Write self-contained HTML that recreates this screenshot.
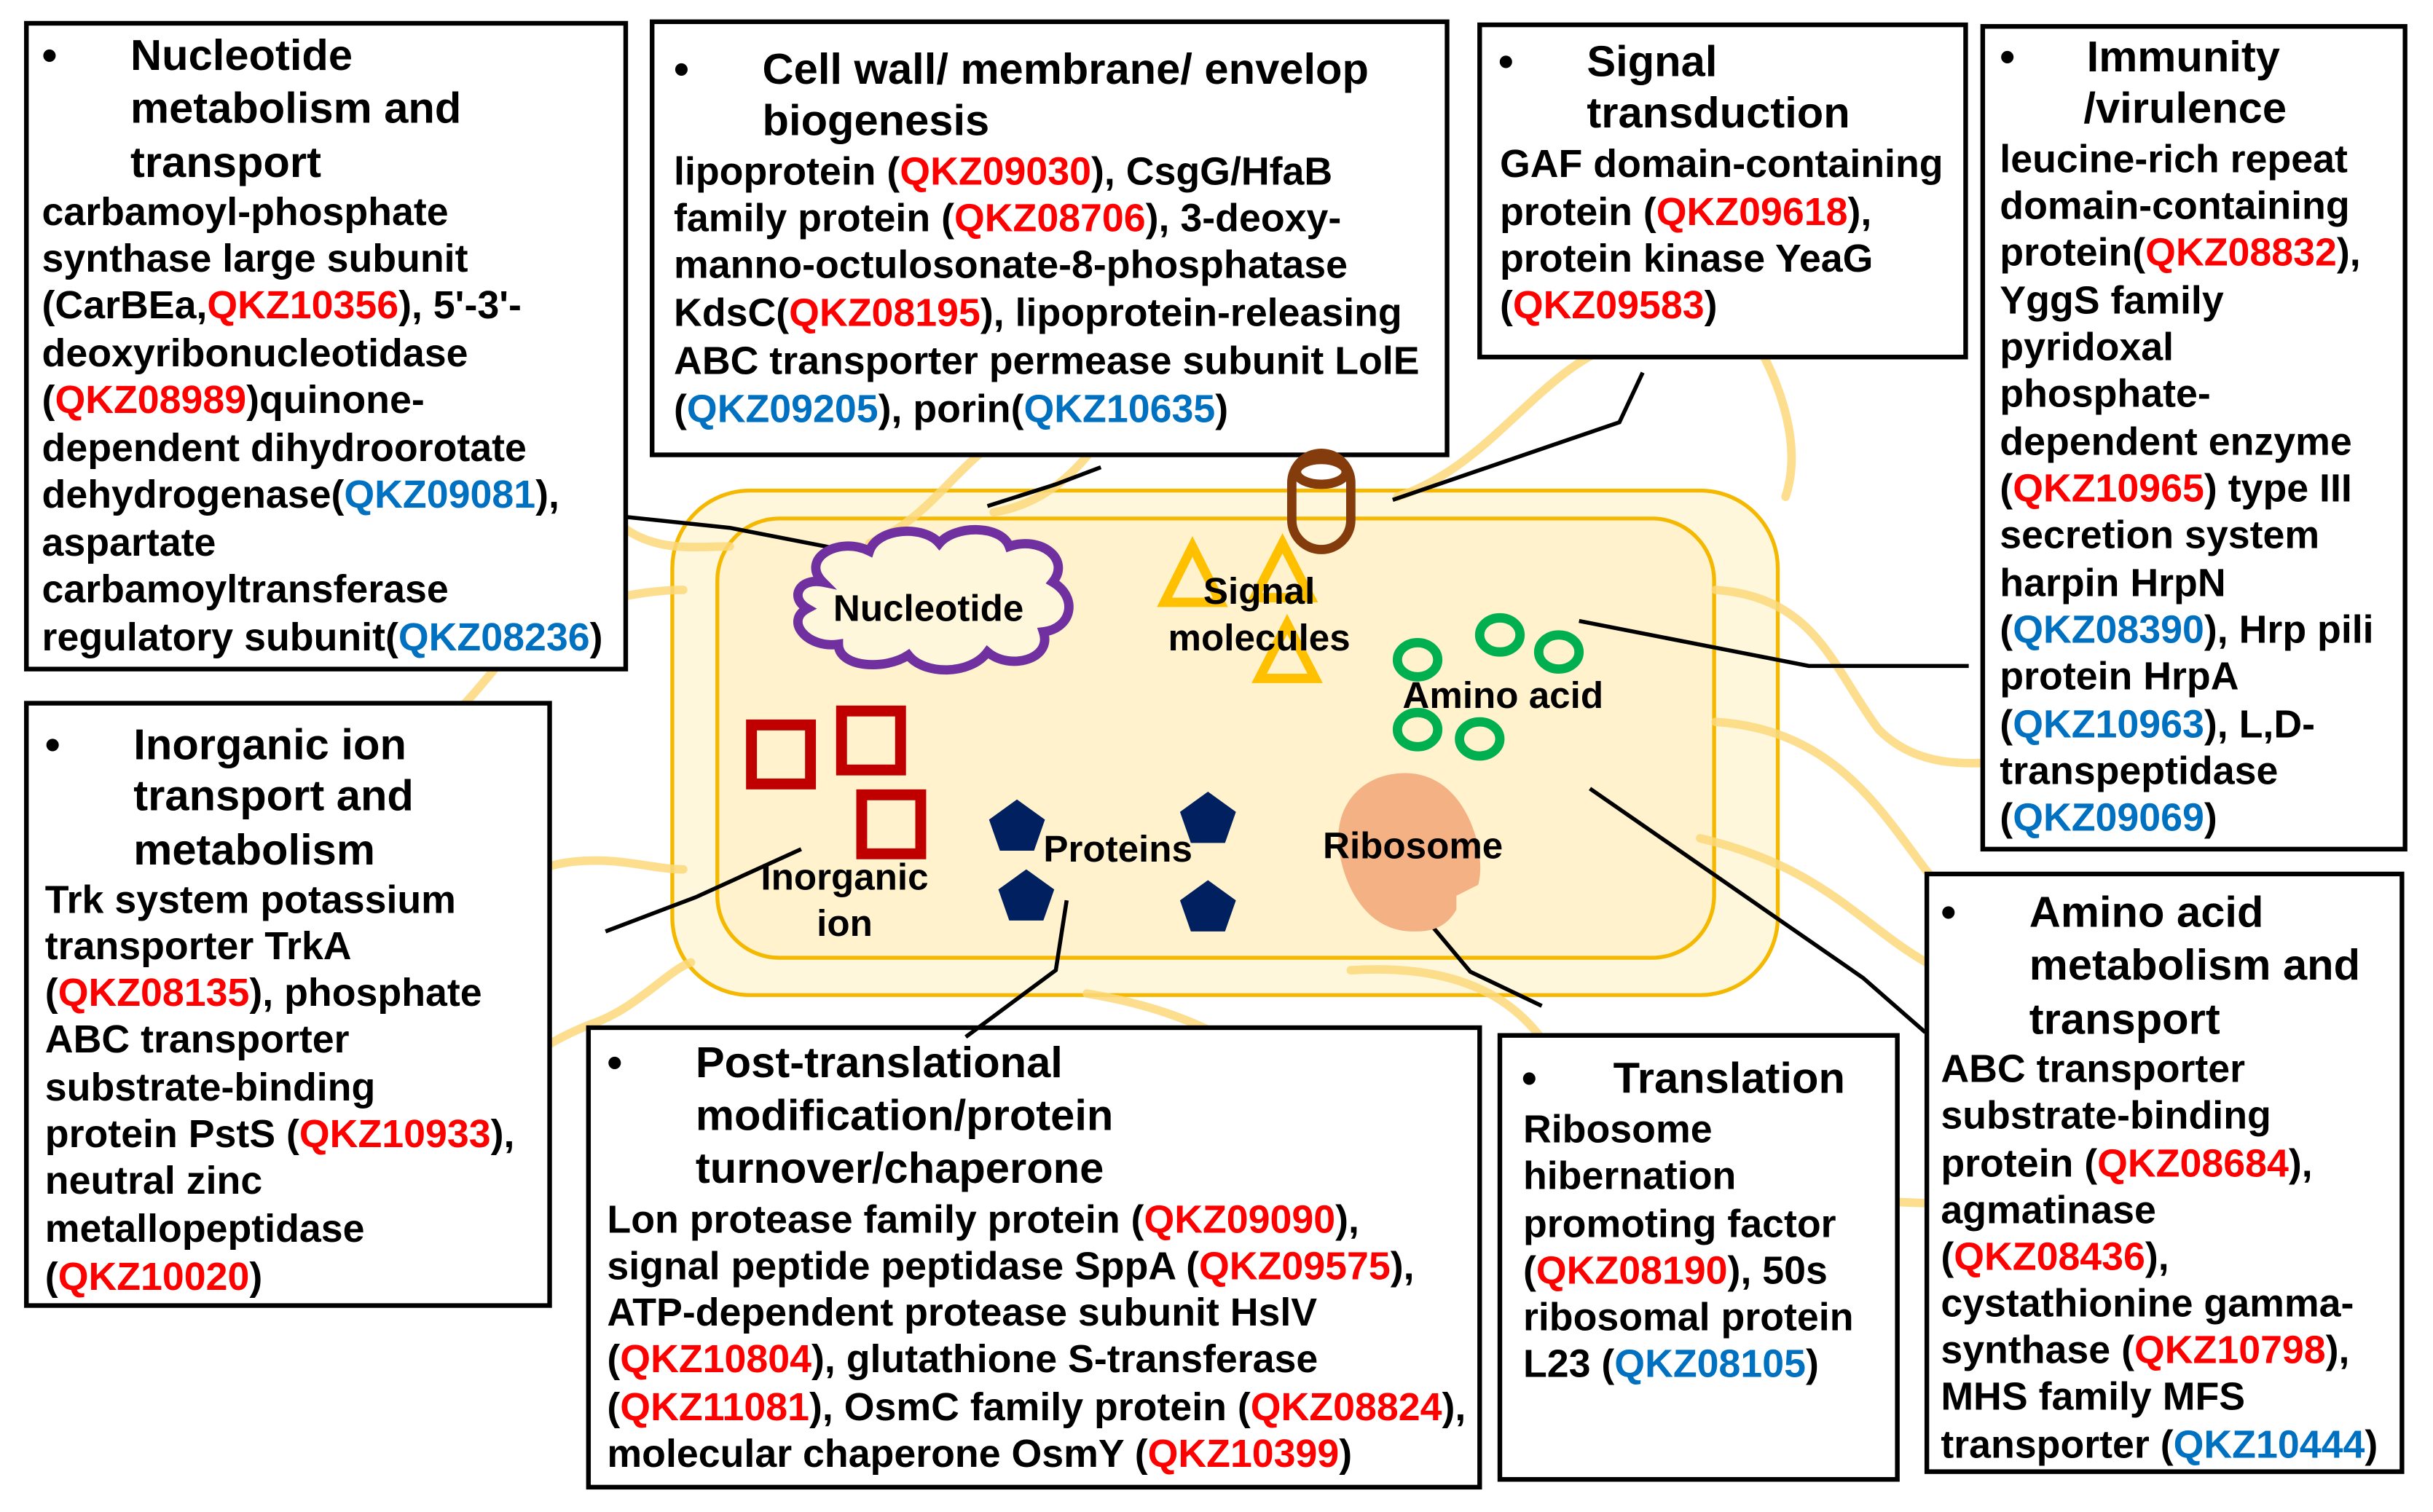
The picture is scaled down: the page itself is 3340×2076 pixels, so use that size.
<!DOCTYPE html>
<html><head><meta charset="utf-8"><style>
html,body{margin:0;padding:0;background:#fff;width:3340px;height:2076px;overflow:hidden}
svg{display:block}
text{font-family:"Liberation Sans",Arial,sans-serif;font-weight:bold;fill:#000}
.b{font-size:25.2px}
.t{font-size:28px}
.c{font-size:24px}
.r{fill:#ff0000}
.u{fill:#0070c0}
.fl{fill:none;stroke:#fbd87a;stroke-width:5.5;stroke-opacity:.85;stroke-linecap:round}
.ln{fill:none;stroke:#000;stroke-width:2.6}
.bx{fill:#fff;stroke:#000;stroke-width:3}
</style></head><body>
<svg width="3340" height="2076" viewBox="0 0 1567 974" preserveAspectRatio="none" xmlns="http://www.w3.org/2000/svg">
<rect x="433" y="316" width="712" height="325" rx="50" fill="#fff7dc" stroke="#f5b800" stroke-width="2.5"/>
<rect x="462" y="334" width="642" height="283" rx="40" fill="#fff2cc" stroke="#f5b800" stroke-width="2.5"/>

<path class="fl" d="M300,232 C380,250 360,320 410,345 C430,355 450,352 470,352"/>
<path class="fl" d="M238,490 C300,480 320,410 360,395 C390,385 420,380 440,380"/>
<path class="fl" d="M235,610 C290,600 320,560 370,555 C400,552 420,560 440,560"/>
<path class="fl" d="M310,765 C300,710 330,680 380,660 C410,650 430,625 445,620"/>
<path class="fl" d="M560,350 C610,330 620,280 690,260 C720,250 745,240 760,230"/>
<path class="fl" d="M640,330 C700,320 720,260 740,230 C760,205 790,200 810,205"/>
<path class="fl" d="M900,320 C960,300 990,240 1040,222 C1080,210 1110,212 1125,210"/>
<path class="fl" d="M1105,380 C1170,385 1180,430 1210,470 C1240,500 1280,490 1310,490"/>
<path class="fl" d="M1105,465 C1180,470 1210,520 1240,560 C1260,585 1290,590 1310,590"/>
<path class="fl" d="M1095,540 C1180,560 1200,600 1250,625"/>
<path class="fl" d="M870,625 C950,620 990,650 1010,700 C1030,760 1100,770 1240,775"/>
<path class="fl" d="M700,640 C760,650 800,670 830,700"/>
<path class="fl" d="M1125,210 C1150,250 1160,290 1150,320"/>

<rect class="bx" x="17" y="15" width="386" height="416"/>
<rect class="bx" x="420" y="14" width="512" height="279"/>
<rect class="bx" x="953" y="16" width="313" height="214"/>
<rect class="bx" x="1277" y="17" width="272" height="530"/>
<rect class="bx" x="17" y="453" width="337" height="388"/>
<rect class="bx" x="379" y="662" width="574" height="296"/>
<rect class="bx" x="966" y="667" width="256" height="286"/>
<rect class="bx" x="1241" y="563" width="306" height="385"/>

<polyline class="ln" points="403,333 470,340 537,353"/>
<polyline class="ln" points="636,326 680,312 709,301"/>
<polyline class="ln" points="897,322 1043,272 1058,240"/>
<polyline class="ln" points="1017,400 1165,429 1268,429"/>
<polyline class="ln" points="1024,508 1200,630 1240,665"/>
<polyline class="ln" points="921,595 947,626 993,648"/>
<polyline class="ln" points="687,580 680,625 622,668"/>
<polyline class="ln" points="390,600 448,578 516,547"/>

<rect x="832" y="292" width="38" height="62" rx="19" fill="none" stroke="#843c0c" stroke-width="6"/>
<ellipse cx="851" cy="304" rx="16" ry="8" fill="#fff" stroke="#843c0c" stroke-width="6"/>

<path d="M530,375 C515,360 540,345 560,355 C565,340 595,338 605,350 C615,338 645,338 650,352 C670,345 690,360 678,375 C695,385 690,405 672,407 C678,425 650,432 636,420 C625,435 595,435 585,422 C570,432 540,430 540,415 C520,418 505,400 520,392 C508,385 515,372 530,375 Z" fill="#fff7dc" stroke="#7030a0" stroke-width="6"/>
<text class="c" x="598" y="400" text-anchor="middle">Nucleotide</text>

<polygon points="768,352 750,388 786,388" fill="none" stroke="#ffc000" stroke-width="6"/>
<polygon points="826,350 808,385 844,385" fill="none" stroke="#ffc000" stroke-width="6"/>
<polygon points="829,402 811,437 847,437" fill="none" stroke="#ffc000" stroke-width="6"/>
<text class="c" x="811" y="389" text-anchor="middle">Signal</text>
<text class="c" x="811" y="419" text-anchor="middle">molecules</text>

<g fill="none" stroke="#00b050" stroke-width="6">
<ellipse cx="913" cy="425" rx="13" ry="11"/>
<ellipse cx="966" cy="409" rx="13" ry="11"/>
<ellipse cx="1004" cy="420" rx="13" ry="11"/>
<ellipse cx="913" cy="470" rx="13" ry="11"/>
<ellipse cx="953" cy="476" rx="13" ry="11"/>
</g>
<text class="c" x="968" y="456" text-anchor="middle">Amino acid</text>

<g fill="none" stroke="#c00000" stroke-width="7">
<rect x="484" y="467" width="38" height="38"/>
<rect x="542" y="458" width="38" height="38"/>
<rect x="555" y="512" width="38" height="38"/>
</g>
<text class="c" x="544" y="573" text-anchor="middle">Inorganic</text>
<text class="c" x="544" y="603" text-anchor="middle">ion</text>

<g fill="#002060">
<polygon points="655,515 673,528 666,548 644,548 637,528"/>
<polygon points="778,510 796,523 789,543 767,543 760,523"/>
<polygon points="661,560 679,573 672,593 650,593 643,573"/>
<polygon points="778,567 796,580 789,600 767,600 760,580"/>
</g>
<text class="c" x="720" y="555" text-anchor="middle">Proteins</text>

<path d="M905,498 C945,498 958,550 952,570 L938,577 L938,586 C930,600 918,600 910,600 C875,600 862,560 862,540 C862,515 880,498 905,498 Z" fill="#f4b183"/>
<text class="c" x="910" y="553" text-anchor="middle">Ribosome</text>

<text class="t" x="27" y="45">•</text>
<text class="t" x="84" y="45">Nucleotide</text>
<text class="t" x="84" y="79">metabolism and</text>
<text class="t" x="84" y="114">transport</text>
<g class="b">
<text x="27" y="145">carbamoyl-phosphate</text>
<text x="27" y="175">synthase large subunit</text>
<text x="27" y="205">(CarBEa,<tspan class="r">QKZ10356</tspan>), 5'-3'-</text>
<text x="27" y="236">deoxyribonucleotidase</text>
<text x="27" y="266">(<tspan class="r">QKZ08989</tspan>)quinone-</text>
<text x="27" y="297">dependent dihydroorotate</text>
<text x="27" y="327">dehydrogenase(<tspan class="u">QKZ09081</tspan>),</text>
<text x="27" y="358">aspartate</text>
<text x="27" y="388">carbamoyltransferase</text>
<text x="27" y="419">regulatory subunit(<tspan class="u">QKZ08236</tspan>)</text>
</g>

<text class="t" x="434" y="54">•</text>
<text class="t" x="491" y="54">Cell wall/ membrane/ envelop</text>
<text class="t" x="491" y="87">biogenesis</text>
<g class="b">
<text x="434" y="119">lipoprotein (<tspan class="r">QKZ09030</tspan>), CsgG/HfaB</text>
<text x="434" y="149">family protein (<tspan class="r">QKZ08706</tspan>), 3-deoxy-</text>
<text x="434" y="179">manno-octulosonate-8-phosphatase</text>
<text x="434" y="210">KdsC(<tspan class="r">QKZ08195</tspan>),  lipoprotein-releasing</text>
<text x="434" y="241">ABC transporter permease subunit LolE</text>
<text x="434" y="272">(<tspan class="u">QKZ09205</tspan>), porin(<tspan class="u">QKZ10635</tspan>)</text>
</g>

<text class="t" x="965" y="49">•</text>
<text class="t" x="1022" y="49">Signal</text>
<text class="t" x="1022" y="82">transduction</text>
<g class="b">
<text x="966" y="114">GAF domain-containing</text>
<text x="966" y="145">protein (<tspan class="r">QKZ09618</tspan>),</text>
<text x="966" y="175">protein kinase YeaG</text>
<text x="966" y="205">(<tspan class="r">QKZ09583</tspan>)</text>
</g>

<text class="t" x="1288" y="46">•</text>
<text class="t" x="1344" y="46">Immunity</text>
<text class="t" x="1342" y="79">/virulence</text>
<g class="b">
<text x="1288" y="111">leucine-rich repeat</text>
<text x="1288" y="141">domain-containing</text>
<text x="1288" y="171">protein(<tspan class="r">QKZ08832</tspan>),</text>
<text x="1288" y="202">YggS family</text>
<text x="1288" y="232">pyridoxal</text>
<text x="1288" y="262">phosphate-</text>
<text x="1288" y="293">dependent enzyme</text>
<text x="1288" y="323">(<tspan class="r">QKZ10965</tspan>) type III</text>
<text x="1288" y="353">secretion system</text>
<text x="1288" y="384">harpin HrpN</text>
<text x="1288" y="414">(<tspan class="u">QKZ08390</tspan>), Hrp pili</text>
<text x="1288" y="444">protein HrpA</text>
<text x="1288" y="475">(<tspan class="u">QKZ10963</tspan>), L,D-</text>
<text x="1288" y="505">transpeptidase</text>
<text x="1288" y="535">(<tspan class="u">QKZ09069</tspan>)</text>
</g>

<text class="t" x="29" y="489">•</text>
<text class="t" x="86" y="489">Inorganic ion</text>
<text class="t" x="86" y="522">transport and</text>
<text class="t" x="86" y="557">metabolism</text>
<g class="b">
<text x="29" y="588">Trk system potassium</text>
<text x="29" y="618">transporter TrkA</text>
<text x="29" y="648">(<tspan class="r">QKZ08135</tspan>), phosphate</text>
<text x="29" y="678">ABC transporter</text>
<text x="29" y="709">substrate-binding</text>
<text x="29" y="739">protein PstS (<tspan class="r">QKZ10933</tspan>),</text>
<text x="29" y="769">neutral zinc</text>
<text x="29" y="800">metallopeptidase</text>
<text x="29" y="831">(<tspan class="r">QKZ10020</tspan>)</text>
</g>

<text class="t" x="391" y="694">•</text>
<text class="t" x="448" y="694">Post-translational</text>
<text class="t" x="448" y="728">modification/protein</text>
<text class="t" x="448" y="762">turnover/chaperone</text>
<g class="b">
<text x="391" y="794">Lon protease family protein (<tspan class="r">QKZ09090</tspan>),</text>
<text x="391" y="824">signal peptide peptidase SppA (<tspan class="r">QKZ09575</tspan>),</text>
<text x="391" y="854">ATP-dependent protease subunit HslV</text>
<text x="391" y="884">(<tspan class="r">QKZ10804</tspan>), glutathione S-transferase</text>
<text x="391" y="915">(<tspan class="r">QKZ11081</tspan>), OsmC family protein (<tspan class="r">QKZ08824</tspan>),</text>
<text x="391" y="945">molecular chaperone OsmY (<tspan class="r">QKZ10399</tspan>)</text>
</g>

<text class="t" x="980" y="704">•</text>
<text class="t" x="1039" y="704">Translation</text>
<g class="b">
<text x="981" y="736">Ribosome</text>
<text x="981" y="766">hibernation</text>
<text x="981" y="797">promoting factor</text>
<text x="981" y="827">(<tspan class="r">QKZ08190</tspan>), 50s</text>
<text x="981" y="857">ribosomal protein</text>
<text x="981" y="887">L23 (<tspan class="u">QKZ08105</tspan>)</text>
</g>

<text class="t" x="1250" y="597">•</text>
<text class="t" x="1307" y="597">Amino acid</text>
<text class="t" x="1307" y="631">metabolism and</text>
<text class="t" x="1307" y="666">transport</text>
<g class="b">
<text x="1250" y="697">ABC transporter</text>
<text x="1250" y="727">substrate-binding</text>
<text x="1250" y="758">protein (<tspan class="r">QKZ08684</tspan>),</text>
<text x="1250" y="788">agmatinase</text>
<text x="1250" y="818">(<tspan class="r">QKZ08436</tspan>),</text>
<text x="1250" y="848">cystathionine gamma-</text>
<text x="1250" y="878">synthase (<tspan class="r">QKZ10798</tspan>),</text>
<text x="1250" y="908">MHS family MFS</text>
<text x="1250" y="939">transporter (<tspan class="u">QKZ10444</tspan>)</text>
</g>
</svg>
</body></html>
